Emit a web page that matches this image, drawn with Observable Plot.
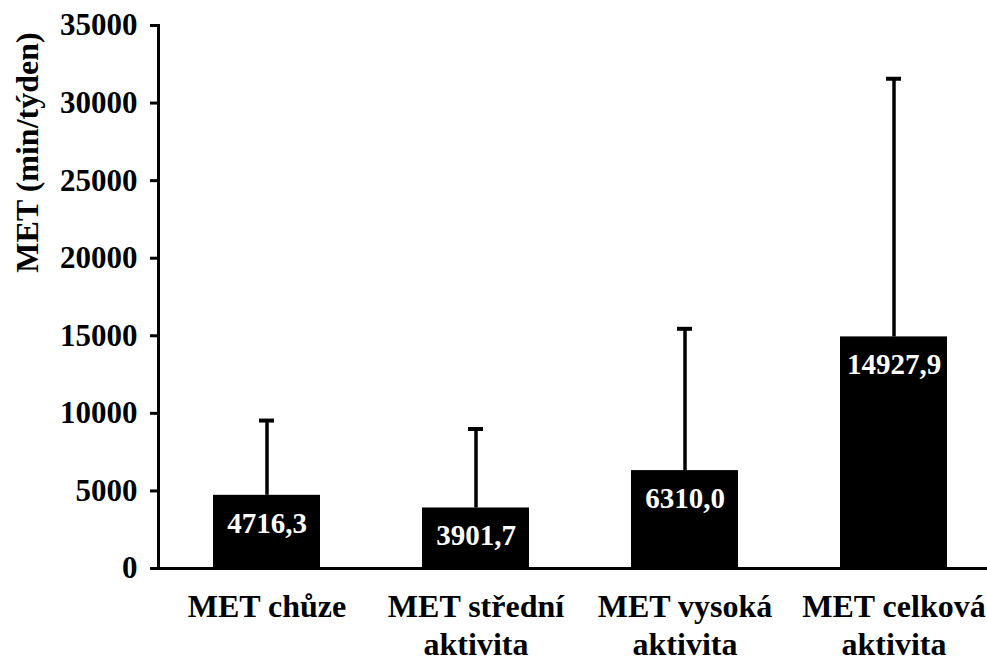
<!DOCTYPE html>
<html>
<head>
<meta charset="utf-8">
<script src="https://cdn.jsdelivr.net/npm/d3@7"></script>
<script src="https://cdn.jsdelivr.net/npm/@observablehq/plot@0.6"></script>
<style>
  html, body { margin: 0; padding: 0; background: #fff; }
  #chart svg { display: block; }
</style>
</head>
<body>
<div id="chart"></div>
<script>
const categories = ["MET chůze", "MET střední aktivita", "MET vysoká aktivita", "MET celková aktivita"];
const tickLabels = ["MET chůze", "MET střední\naktivita", "MET vysoká\naktivita", "MET celková\naktivita"];
const means = [4716.3, 3901.7, 6310.0, 14927.9];
const sds = [4820, 5090, 9140, 16640];
const yTicks = [0, 5000, 10000, 15000, 20000, 25000, 30000, 35000];
const yTitle = "MET (min/týden)";

const data = categories.map((c, i) => ({cat: c, mean: means[i], upper: means[i] + sds[i]}));
const fmt = v => d3.format(".1f")(v).replace(".", ",");
const font = "'Liberation Serif', 'Times New Roman', serif";

const chart = Plot.plot({
  width: 987,
  height: 665,
  marginTop: 25,
  marginBottom: 97,
  marginLeft: 158,
  marginRight: 0,
  style: {fontFamily: font, fontWeight: "bold", color: "#000", background: "#fff"},
  x: {domain: categories, range: [161, 999], paddingInner: 0.49, paddingOuter: 0.245},
  y: {domain: [0, 35000]},
  marks: [
    Plot.barY(data, {x: "cat", y: "mean", fill: "#000"}),
    Plot.ruleX(data, {x: "cat", y1: "mean", y2: "upper", stroke: "#000", strokeWidth: 3.5}),
    Plot.tickY(data, {x: "cat", y: "upper", stroke: "#000", strokeWidth: 4, insetLeft: 46, insetRight: 46}),
    Plot.text(data, {x: "cat", y: "mean", text: d => fmt(d.mean), fill: "#fff", fontSize: 29, fontWeight: "bold", dy: 28}),
    Plot.ruleY([0], {stroke: "#000", strokeWidth: 3}),
    Plot.frame({anchor: "left", stroke: "#000", strokeWidth: 3}),
    Plot.axisY({ticks: yTicks, tickFormat: "d", tickSize: 8, tickPadding: 13, fontSize: 31, fontWeight: "bold", strokeWidth: 3, label: null}),
    Plot.axisX({tickFormat: (d) => tickLabels[categories.indexOf(d)], tickSize: 0, tickPadding: 22, fontSize: 32, fontWeight: "bold", lineHeight: 1.18, label: null}),
    Plot.text([yTitle], {frameAnchor: "top-left", text: d => d, rotate: -90, textAnchor: "middle", lineAnchor: "middle", fontSize: 32, fontWeight: "bold", dx: -131, dy: 127})
  ]
});
document.getElementById("chart").appendChild(chart);
</script>
</body>
</html>
